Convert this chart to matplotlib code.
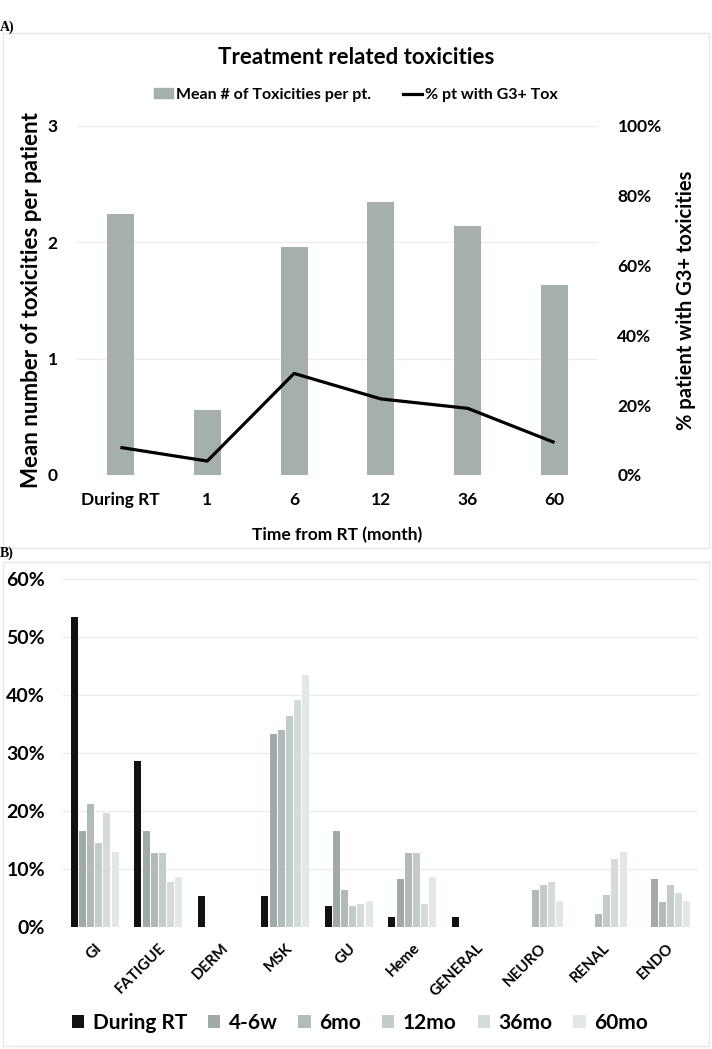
import matplotlib
matplotlib.use("Agg")
import matplotlib.pyplot as plt
import numpy as np
from matplotlib.patches import Patch, Rectangle
from matplotlib.lines import Line2D
from matplotlib.ticker import PercentFormatter

plt.rcParams['font.family'] = ['Lato', 'DejaVu Sans']
plt.rcParams['font.weight'] = 'bold'
plt.rcParams['axes.labelweight'] = 'bold'

# panel A data
times = ["During RT", "1", "6", "12", "36", "60"]
mean_tox = [2.24, 0.56, 1.96, 2.35, 2.14, 1.63]
pct_g3 = [7.9, 4.0, 29.1, 21.8, 19.1, 9.3]

# panel B data
systems = ["GI", "FATIGUE", "DERM", "MSK", "GU", "Heme", "GENERAL", "NEURO", "RENAL", "ENDO"]
periods = ["During RT", "4-6w", "6mo", "12mo", "36mo", "60mo"]
during_rt = [53.4, 28.6, 5.4, 5.4, 3.6, 1.8, 1.8, 0, 0, 0]
w4_6 = [16.6, 16.6, 0, 33.3, 16.6, 8.3, 0, 0, 0, 8.3]
mo6 = [21.2, 12.8, 0, 34.0, 6.4, 12.8, 0, 6.4, 2.2, 4.3]
mo12 = [14.5, 12.8, 0, 36.3, 3.6, 12.8, 0, 7.2, 5.5, 7.3]
mo36 = [19.6, 7.8, 0, 39.1, 3.9, 3.9, 0, 7.8, 11.8, 5.9]
mo60 = [13.0, 8.6, 0, 43.4, 4.4, 8.6, 0, 4.4, 13.0, 4.4]

bar_col = "#a4afae"
period_cols = ["#111111", "#a0aaaa", "#b2bbbb", "#c4cbcb", "#d5dada", "#e3e7e7"]
grid_col = "#ececec"

W, H = 712, 1049
fig = plt.figure(figsize=(W / 100, H / 100), dpi=100)

def fx(px):
    return px / W

def fy(py):
    return 1 - py / H

# panel frames
for top, bot in [(33, 548), (562, 1046)]:
    fig.add_artist(Rectangle((fx(3), fy(bot)), fx(706), (bot - top) / H,
                             transform=fig.transFigure, fill=False,
                             edgecolor="#e4e8e8", lw=1))
fig.text(fx(0), fy(27), "A)", family="Liberation Serif", weight="bold",
         fontsize=10, va="center", ha="left")
fig.text(fx(0), fy(553), "B)", family="Liberation Serif", weight="bold",
         fontsize=10, va="center", ha="left")

# ---------- panel A ----------
ax = fig.add_axes([fx(77), fy(475), fx(598 - 77), (475 - 126) / H])
x = np.arange(len(times))
ax.bar(x, mean_tox, width=0.31, color=bar_col, zorder=2)
ax.set_ylim(0, 3)
ax.set_yticks([0, 1, 2, 3])
ax.set_xlim(-0.5, len(times) - 0.5)
ax.set_xticks(x)
ax.set_xticklabels(times)
ax.grid(axis="y", color=grid_col, lw=1, zorder=0)
for s in ax.spines.values():
    s.set_visible(False)
ax.tick_params(length=0, labelsize=12.5, pad=12)
ax.tick_params(axis="y", pad=14)
ax.set_ylabel("Mean number of toxicities per patient", fontsize=16, labelpad=4)
ax.set_xlabel("Time from RT (month)", fontsize=12.5, labelpad=14)

ax2 = ax.twinx()
ax2.plot(x, pct_g3, color="black", lw=2.3, zorder=3, solid_capstyle="butt")
ax2.set_ylim(0, 100)
ax2.set_yticks(np.arange(0, 101, 20))
ax2.yaxis.set_major_formatter(PercentFormatter(decimals=0))
for s in ax2.spines.values():
    s.set_visible(False)
ax2.tick_params(length=0, labelsize=12.5, pad=14)
ax2.set_ylabel("% patient with G3+ toxicities", fontsize=14.5, labelpad=10)

fig.text(fx(356), fy(58), "Treatment related toxicities", ha="center",
         va="center", fontsize=16)
handles = [Patch(color=bar_col), Line2D([], [], color="black", lw=2.3)]
fig.legend(handles, ["Mean # of Toxicities per pt.", "% pt with G3+ Tox"],
           loc="center", bbox_to_anchor=(fx(356), fy(95)), ncol=2,
           frameon=False, fontsize=11.5, handlelength=1.2, handleheight=0.6,
           handletextpad=0.2, columnspacing=2.0)

# ---------- panel B ----------
bx = fig.add_axes([fx(63), fy(927), fx(698 - 63), (927 - 579) / H])
series = [during_rt, w4_6, mo6, mo12, mo36, mo60]
xs = np.arange(len(systems))
slot = 0.77 / len(series)
for i, (vals, col) in enumerate(zip(series, period_cols)):
    off = (i - (len(series) - 1) / 2) * slot
    bx.bar(xs + off, np.array(vals) / 100, width=slot * 0.86, color=col,
           label=periods[i], zorder=2)
bx.set_ylim(0, 0.6)
bx.set_yticks(np.arange(0, 0.61, 0.1))
bx.yaxis.set_major_formatter(PercentFormatter(xmax=1, decimals=0))
bx.set_xlim(-0.5, len(systems) - 0.5)
bx.set_xticks(xs)
bx.set_xticklabels(systems, rotation=45, ha="right", rotation_mode="anchor",
                   fontsize=11)
bx.grid(axis="y", color=grid_col, lw=1, zorder=0)
for s in bx.spines.values():
    s.set_visible(False)
bx.tick_params(length=0, pad=10)
bx.tick_params(axis="y", labelsize=14, pad=13)
bx.legend(loc="center", bbox_to_anchor=(fx(360), fy(1023)),
          bbox_transform=fig.transFigure, ncol=6, frameon=False, fontsize=15,
          handlelength=0.6, handleheight=0.6, handletextpad=0.4,
          columnspacing=1.0)

fig.savefig("out.png", dpi=100)
